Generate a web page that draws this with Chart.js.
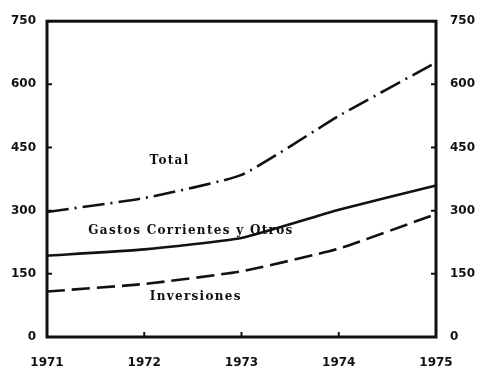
<!DOCTYPE html>
<html>
<head>
<meta charset="utf-8">
<script src="https://cdn.jsdelivr.net/npm/chart.js@4/dist/chart.umd.min.js"></script>
<style>
  html, body { margin: 0; padding: 0; background: #fff; }
  #wrap { width: 478px; height: 370px; position: relative; }
</style>
</head>
<body>
<div id="wrap"><canvas id="c" width="478" height="370"></canvas></div>
<script>
// Years on the horizontal axis
const years = ['1971', '1972', '1973', '1974', '1975'];

// Series values (millions)
const total = [297, 330, 385, 525, 652];
const gastosCorrientes = [193, 208, 235, 302, 360];
const inversiones = [108, 126, 156, 210, 292];

// Value axis ticks
const yTicks = [0, 150, 300, 450, 600, 750];

// Inline series labels: [text, x position (category index), y value]
const seriesLabels = [
  ['Total', 1.26, 419],
  ['Gastos Corrientes y Otros', 1.48, 251],
  ['Inversiones', 1.53, 95]
];

const INK = '#111';

// Frame, inward tick marks and series captions
const framePlugin = {
  id: 'frame',
  afterDatasetsDraw(chart) {
    const { ctx, chartArea: a, scales } = chart;
    const y = scales.y, x = scales.x;
    ctx.save();
    ctx.strokeStyle = INK;
    ctx.lineWidth = 3;
    ctx.strokeRect(a.left, a.top, a.right - a.left, a.bottom - a.top);
    ctx.lineWidth = 2;
    ctx.beginPath();
    yTicks.forEach(v => {
      const py = y.getPixelForValue(v);
      ctx.moveTo(a.left, py); ctx.lineTo(a.left + 5, py);
      ctx.moveTo(a.right, py); ctx.lineTo(a.right - 5, py);
    });
    years.forEach((_, i) => {
      const px = x.getPixelForValue(i);
      ctx.moveTo(px, a.bottom); ctx.lineTo(px, a.bottom - 5);
    });
    ctx.stroke();
    ctx.fillStyle = INK;
    ctx.font = 'bold 12px "DejaVu Serif"';
    ctx.letterSpacing = '1.3px';
    ctx.textAlign = 'center';
    ctx.textBaseline = 'middle';
    seriesLabels.forEach(([t, xi, v]) => {
      ctx.fillText(t, x.getPixelForValue(xi), y.getPixelForValue(v));
    });
    ctx.restore();
  }
};

const lineStyle = {
  borderColor: INK,
  borderWidth: 2.6,
  pointRadius: 0,
  tension: 0.15,
  fill: false,
  xAxisID: 'x',
  yAxisID: 'y'
};

new Chart(document.getElementById('c'), {
  type: 'line',
  data: {
    labels: years,
    datasets: [
      Object.assign({ label: 'Total', data: total, borderDash: [22, 6, 2, 6] }, lineStyle),
      Object.assign({ label: 'Gastos Corrientes y Otros', data: gastosCorrientes }, lineStyle),
      Object.assign({ label: 'Inversiones', data: inversiones, borderDash: [18, 7] }, lineStyle)
    ]
  },
  options: {
    responsive: false,
    animation: false,
    layout: { padding: { top: 15, left: 0, right: 0, bottom: 0 } },
    plugins: { legend: { display: false }, tooltip: { enabled: false } },
    scales: {
      x: {
        type: 'category',
        offset: false,
        afterFit(s) { s.height = 33; },
        grid: { display: false, drawTicks: false },
        border: { display: false },
        ticks: {
          color: INK,
          font: { family: 'DejaVu Sans', weight: 'bold', size: 12 },
          padding: 19,
          maxRotation: 0,
          autoSkip: false
        }
      },
      y: {
        position: 'left',
        min: 0, max: 750,
        afterBuildTicks(s) { s.ticks = yTicks.map(v => ({ value: v })); },
        afterFit(s) { s.width = 47; },
        grid: { display: false, drawTicks: false },
        border: { display: false },
        ticks: {
          color: INK,
          font: { family: 'DejaVu Sans', weight: 'bold', size: 12 },
          padding: 11
        }
      },
      y2: {
        position: 'right',
        min: 0, max: 750,
        afterBuildTicks(s) { s.ticks = yTicks.map(v => ({ value: v })); },
        afterFit(s) { s.width = 42; },
        grid: { display: false, drawTicks: false },
        border: { display: false },
        ticks: {
          color: INK,
          font: { family: 'DejaVu Sans', weight: 'bold', size: 12 },
          padding: 14
        }
      }
    }
  },
  plugins: [framePlugin]
});
</script>
</body>
</html>
